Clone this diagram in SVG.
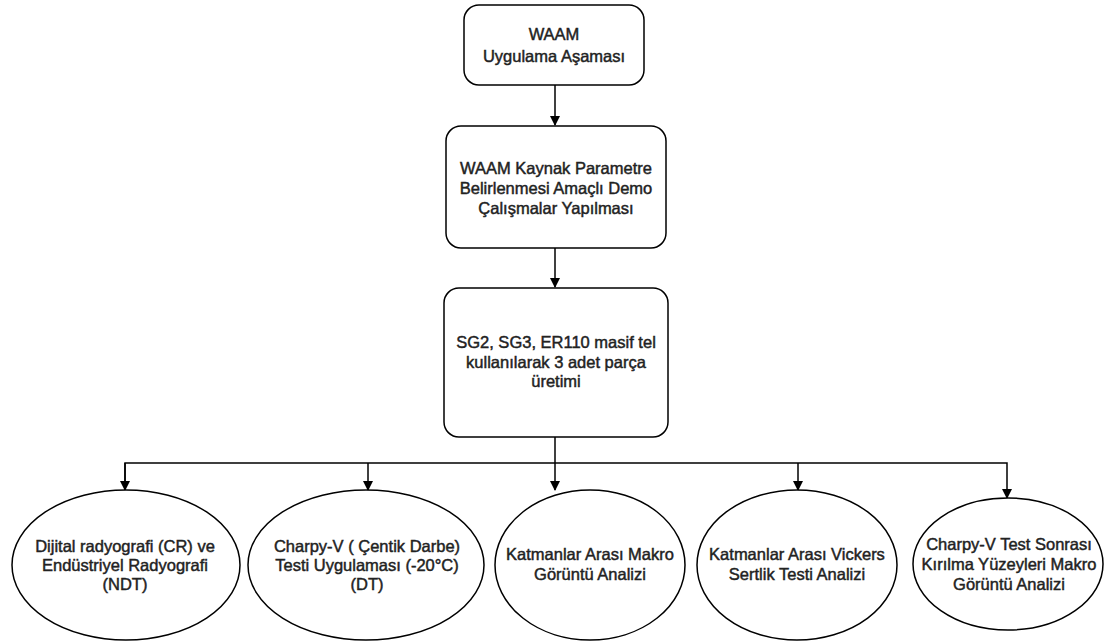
<svg xmlns="http://www.w3.org/2000/svg" width="1106" height="641" viewBox="0 0 1106 641">
<defs>
<marker id="arr" markerWidth="10" markerHeight="10" refX="9" refY="5" orient="auto" markerUnits="userSpaceOnUse"><path d="M0,0 L10,5 L0,10 Z" fill="#000"/></marker>
<style>
.n{fill:#fff;stroke:#000;stroke-width:1.5}
.t{font-family:"Liberation Sans",Arial,sans-serif;font-size:16.5px;fill:#222;stroke:#222;stroke-width:0.45px;text-anchor:middle}
.c{fill:none;stroke:#000;stroke-width:1.5}
</style>
</defs>
<rect width="1106" height="641" fill="#fff"/>
<g id="connectors">
<path class="c" d="M555,85 V125" marker-end="url(#arr)"/>
<path class="c" d="M555,248 V287" marker-end="url(#arr)"/>
<path class="c" d="M555,437 V490" marker-end="url(#arr)"/>
<path class="c" d="M125,490 V463 H1007 V498" marker-end="url(#arr)"/>
<path class="c" d="M368,463 V490" marker-end="url(#arr)"/>
<path class="c" d="M798,463 V490" marker-end="url(#arr)"/>
<path class="c" d="M125,463 V490" marker-end="url(#arr)"/>
</g>
<g id="n1"><rect class="n" x="464" y="5" width="180" height="80" rx="15"/>
<text class="t" x="554" y="40">WAAM</text><text class="t" x="554" y="62">Uygulama Aşaması</text></g>
<g id="n2"><rect class="n" x="446" y="126" width="220" height="122" rx="15"/>
<text class="t" x="556" y="174">WAAM Kaynak Parametre</text><text class="t" x="556" y="194">Belirlenmesi Amaçlı Demo</text><text class="t" x="556" y="214">Çalışmalar Yapılması</text></g>
<g id="n3"><rect class="n" x="444" y="288" width="224" height="149" rx="15"/>
<text class="t" x="556" y="348">SG2, SG3, ER110 masif tel</text><text class="t" x="556" y="368">kullanılarak 3 adet parça</text><text class="t" x="556" y="387">üretimi</text></g>
<g id="e1"><ellipse class="n" cx="126" cy="565" rx="114" ry="75"/>
<text class="t" x="125" y="552">Dijital radyografi (CR) ve</text><text class="t" x="125" y="571">Endüstriyel Radyografi</text><text class="t" x="125" y="590">(NDT)</text></g>
<g id="e2"><ellipse class="n" cx="366" cy="565" rx="118" ry="75"/>
<text class="t" x="367" y="552">Charpy-V ( Çentik Darbe)</text><text class="t" x="367" y="571">Testi Uygulaması (-20°C)</text><text class="t" x="367" y="590">(DT)</text></g>
<g id="e3"><ellipse class="n" cx="590" cy="565" rx="95" ry="75"/>
<text class="t" x="590" y="560">Katmanlar Arası Makro</text><text class="t" x="590" y="580">Görüntü Analizi</text></g>
<g id="e4"><ellipse class="n" cx="797" cy="565" rx="100" ry="75"/>
<text class="t" x="797" y="560">Katmanlar Arası Vickers</text><text class="t" x="797" y="580">Sertlik Testi Analizi</text></g>
<g id="e5"><ellipse class="n" cx="1008" cy="564" rx="95" ry="66"/>
<text class="t" x="1009" y="550">Charpy-V Test Sonrası</text><text class="t" x="1009" y="570">Kırılma Yüzeyleri Makro</text><text class="t" x="1009" y="590">Görüntü Analizi</text></g>
</svg>
